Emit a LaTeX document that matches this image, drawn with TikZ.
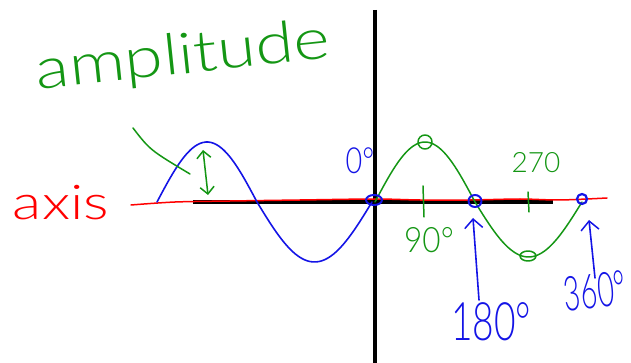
\documentclass[tikz,border=0pt]{standalone}
\usepackage{fontspec}
\setmainfont{Lato Light}
\usetikzlibrary{arrows.meta}
\definecolor{pred}{RGB}{255,0,0}
\definecolor{pgreen}{RGB}{20,150,20}
\definecolor{pblue}{RGB}{20,20,230}
\tikzset{
  hand/.style={inner sep=0pt, anchor=center},
  gline/.style={pgreen, line width=1.5pt, line cap=round, line join=round},
  bline/.style={pblue, line width=1.6pt, line cap=round, line join=round},
  rline/.style={pred, line width=1.5pt, line cap=round},
  kline/.style={black, line width=4pt},
  openhead/.style={-{Straight Barb[length=9pt,width=18pt,line width=1.5pt]}},
}
\newcommand{\fsz}[1]{\fontsize{#1}{#1}\selectfont}
\begin{document}
\begin{tikzpicture}[x=1pt,y=-1pt]
\useasboundingbox (0,0) rectangle (631,363);
% axes
\coordinate (vtop) at (375,10);
\coordinate (vbot) at (375,363);
\coordinate (hl) at (193,202);
\coordinate (hr) at (553,202);
\draw[kline] (vtop) -- (vbot);
\draw[kline] (hl) -- (hr);
% red axis line
\draw[rline] plot[smooth] coordinates {(131,205) (175,202) (230,201) (300,200) (375,199) (420,200) (470,200) (520,199) (560,200) (607,198)};
% blue sine
\draw[bline] plot[domain=0:180,samples=40] ({157+\x/180*100},{202-60*sin(\x)})
  -- plot[domain=180:360,samples=40] ({257+(\x-180)/180*115},{202-60*sin(\x)});
% green sine
\draw[gline] plot[domain=0:180,samples=40] ({375+\x/180*100},{202-60*sin(\x)})
  -- plot[domain=180:360,samples=40] ({475+(\x-180)/180*107},{202-55*sin(\x)});
% circles
\draw[bline, line width=2pt] (374,200) ellipse [x radius=8, y radius=5];
\draw[bline, line width=2pt] (475,201) ellipse [x radius=6.5, y radius=6];
\draw[bline, line width=2.2pt] (582,199) ellipse [x radius=5, y radius=5];
\draw[gline] (425,142) circle [radius=7];
\draw[gline] (528,256) ellipse [x radius=8, y radius=5];
% ticks
\draw[gline] (423,186) -- (424,217);
\draw[gline] (528,192) -- (529,212);
% amplitude pointer and arrow
\coordinate (pa) at (133,128);
\coordinate (pb) at (190,174);
\draw[gline] (pa) .. controls (150,150) .. (pb);
\coordinate (aa) at (203,150);
\coordinate (ab) at (208,195);
\draw[gline, {Straight Barb[length=7pt,width=14pt,line width=1.5pt]}-{Straight Barb[length=7pt,width=14pt,line width=1.5pt]}] (aa) -- (ab);
% blue arrows
\coordinate (a180s) at (479,300);
\coordinate (a180e) at (473,218);
\draw[bline, openhead] (a180s) -- (a180e);
\coordinate (a360s) at (595,278);
\coordinate (a360e) at (589,220);
\draw[bline, openhead] (a360s) -- (a360e);
% texts
\node[hand, pred, xscale=1.25] (taxis) at (61,203) {\fsz{48}axis};
\node[hand, pgreen, rotate=6, xscale=1.22] (tamp) at (183,58) {\fsz{57}amplitude};
\node[hand, pblue, xscale=0.8] (t0) at (360,161) {\fsz{36}0°};
\node[hand, pgreen, xscale=0.9] (t90) at (429,240) {\fsz{35}90°};
\node[hand, pgreen] (t270) at (536,163) {\fsz{28}270};
\node[hand, pblue, xscale=0.7] (t180) at (491,322) {\fsz{53}180°};
\node[hand, pblue, rotate=6, xscale=0.6] (t360) at (595,291) {\fsz{48}360°};
\end{tikzpicture}
\end{document}
